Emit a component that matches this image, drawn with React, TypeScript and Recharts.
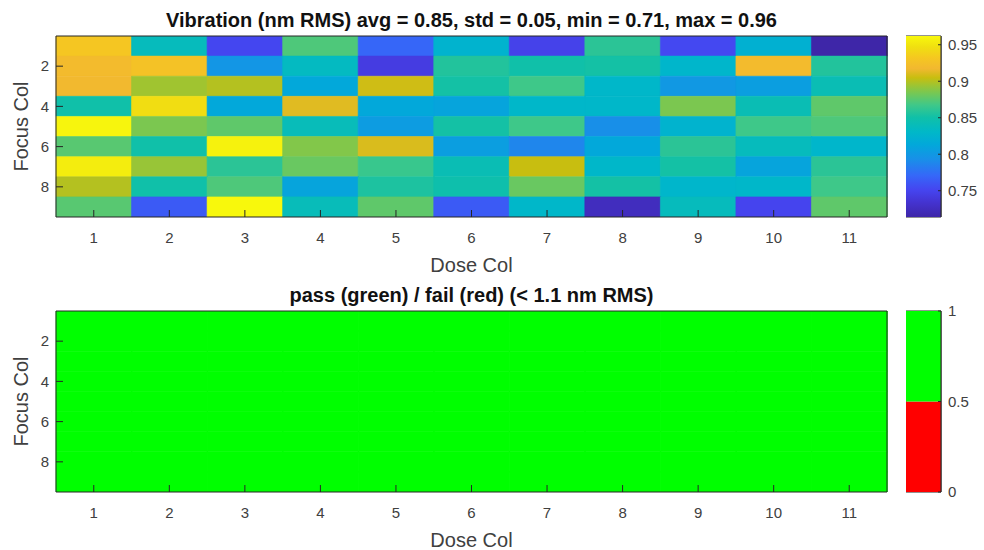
import { BarChart, Bar, Cell, XAxis, YAxis, ReferenceArea } from "recharts";

const doseCols = [1, 2, 3, 4, 5, 6, 7, 8, 9, 10, 11];
const focusRows = [1, 2, 3, 4, 5, 6, 7, 8, 9];
const focusTicks = [2, 4, 6, 8];

// vibration, nm RMS, one array per focus row (top to bottom)
const row1 = [0.93, 0.838, 0.752, 0.872, 0.77, 0.825, 0.748, 0.86, 0.753, 0.822, 0.714];
const row2 = [0.92, 0.927, 0.798, 0.835, 0.743, 0.857, 0.85, 0.852, 0.828, 0.92, 0.857];
const row3 = [0.918, 0.895, 0.9, 0.813, 0.907, 0.852, 0.867, 0.83, 0.8, 0.805, 0.843];
const row4 = [0.85, 0.945, 0.813, 0.912, 0.813, 0.81, 0.83, 0.83, 0.885, 0.843, 0.877];
const row5 = [0.96, 0.885, 0.877, 0.84, 0.803, 0.852, 0.867, 0.793, 0.825, 0.867, 0.872];
const row6 = [0.875, 0.85, 0.958, 0.887, 0.91, 0.805, 0.788, 0.813, 0.86, 0.838, 0.828];
const row7 = [0.955, 0.893, 0.86, 0.88, 0.865, 0.843, 0.905, 0.83, 0.852, 0.81, 0.86];
const row8 = [0.9, 0.85, 0.872, 0.81, 0.855, 0.848, 0.88, 0.852, 0.828, 0.83, 0.867];
const row9 = [0.875, 0.763, 0.962, 0.84, 0.877, 0.763, 0.83, 0.725, 0.838, 0.75, 0.877];
const vibration = [row1, row2, row3, row4, row5, row6, row7, row8, row9];

const passLimit = 1.1;
const vibTicks = [0.75, 0.8, 0.85, 0.9, 0.95];
const passTicks = [0, 0.5, 1];

const vibTitle = "Vibration (nm RMS) avg = 0.85, std = 0.05, min = 0.71, max = 0.96";
const passTitle = "pass (green) / fail (red) (< 1.1 nm RMS)";

// parula-like colormap stops
const PARULA: [number, string][] = [
  [0.0, "#3E26A8"],
  [0.08, "#4433D0"],
  [0.15, "#4545F0"],
  [0.23, "#3568F8"],
  [0.32, "#1890E8"],
  [0.4, "#02A8DA"],
  [0.47, "#00B8C8"],
  [0.55, "#10C0A8"],
  [0.62, "#40C888"],
  [0.68, "#72C858"],
  [0.73, "#A0C430"],
  [0.77, "#C8BE10"],
  [0.82, "#F2B830"],
  [0.88, "#F5C820"],
  [0.94, "#F0E010"],
  [1.0, "#F8F80C"],
];

const allVib = vibration.flat();
const vMin = Math.min(...allVib);
const vMax = Math.max(...allVib);

function rgb(h: string) {
  const n = parseInt(h.slice(1), 16);
  return [(n >> 16) & 255, (n >> 8) & 255, n & 255];
}

function parula(v: number) {
  const t = Math.max(0, Math.min(1, (v - vMin) / (vMax - vMin)));
  for (let i = 1; i < PARULA.length; i++) {
    const [t1, c1] = PARULA[i];
    if (t <= t1) {
      const [t0, c0] = PARULA[i - 1];
      const f = (t - t0) / (t1 - t0);
      const a = rgb(c0);
      const b = rgb(c1);
      const m = a.map((x, k) => Math.round(x + (b[k] - x) * f));
      return `rgb(${m[0]},${m[1]},${m[2]})`;
    }
  }
  return PARULA[PARULA.length - 1][1];
}

const passColor = (v: number) => (v >= 0.5 ? "#00FF00" : "#FF0000");
const passGrid = vibration.map((row) => row.map((v) => (v < passLimit ? 1 : 0)));

// one entry per dose column; each focus row is a stacked band of height 1
// starting at 0.5 so the band centres land on 1..9
const heatData = doseCols.map((d) => {
  const o: Record<string, number> = { dose: d, base: 0.5 };
  focusRows.forEach((r) => (o[`r${r}`] = 1));
  return o;
});

const W = 900;
const PLOT_L = 56;
const PLOT_R = 887;
const AXIS = "#262626";
const TXT = "#404040";

function Heatmap({
  grid,
  color,
  title,
  marginTop,
  height,
}: {
  grid: number[][];
  color: (v: number) => string;
  title: string;
  marginTop: number;
  height: number;
}) {
  return (
    <BarChart
      width={W}
      height={height}
      data={heatData}
      barCategoryGap={0}
      barGap={0}
      margin={{ top: marginTop, right: W - PLOT_R - 1, bottom: 0, left: PLOT_L - 30 }}
    >
      <Bar dataKey="base" stackId="s" fill="none" isAnimationActive={false} />
      {focusRows.map((r, ri) => (
        <Bar key={r} dataKey={`r${r}`} stackId="s" isAnimationActive={false}>
          {doseCols.map((d, ci) => (
            <Cell key={d} fill={color(grid[ri][ci])} stroke={color(grid[ri][ci])} strokeWidth={0.6} />
          ))}
        </Bar>
      ))}
      <XAxis
        dataKey="dose"
        interval={0}
        height={58}
        tickSize={-7}
        tickMargin={22}
        stroke={AXIS}
        tick={{ fill: TXT, fontSize: 15 }}
        label={{ value: "Dose Col", position: "insideBottom", offset: 3, fill: TXT, fontSize: 20 }}
      />
      <XAxis
        xAxisId="top"
        orientation="top"
        type="number"
        domain={[0.5, doseCols.length + 0.5]}
        ticks={doseCols}
        interval={0}
        allowDataOverflow
        height={1}
        tickSize={-7}
        tick={false}
        stroke={AXIS}
        label={{ value: title, position: "top", offset: 8.5, fill: "#111", fontSize: 20, fontWeight: "bold" }}
      />
      <YAxis
        type="number"
        domain={[0.5, focusRows.length + 0.5]}
        reversed
        ticks={focusTicks}
        interval={0}
        allowDataOverflow
        width={30}
        tickSize={-7}
        tickMargin={14}
        stroke={AXIS}
        tick={{ fill: TXT, fontSize: 15 }}
        label={{
          value: "Focus Col",
          angle: -90,
          position: "insideLeft",
          offset: -5,
          fill: TXT,
          fontSize: 20,
          style: { textAnchor: "middle" },
        }}
      />
      <YAxis
        yAxisId="right"
        orientation="right"
        type="number"
        domain={[0.5, focusRows.length + 0.5]}
        reversed
        ticks={focusTicks}
        interval={0}
        allowDataOverflow
        width={1}
        tickSize={-7}
        tick={false}
        stroke={AXIS}
      />
    </BarChart>
  );
}

function VibColorbar() {
  const data = [{ name: "cb", span: [vMin, vMax] }];
  return (
    <BarChart width={80} height={205} data={data} margin={{ top: 12, right: 0, bottom: 12, left: 0 }} barCategoryGap={0}>
      <defs>
        <linearGradient id="parulaGrad" x1="0" y1="1" x2="0" y2="0">
          {PARULA.map(([t, c]) => (
            <stop key={t} offset={`${t * 100}%`} stopColor={c} />
          ))}
        </linearGradient>
      </defs>
      <XAxis dataKey="name" hide />
      <Bar dataKey="span" fill="url(#parulaGrad)" isAnimationActive={false} />
      <ReferenceArea y1={vMin} y2={vMax} fill="none" stroke={AXIS} strokeWidth={1} fillOpacity={0} />
      <YAxis
        orientation="right"
        type="number"
        domain={[vMin, vMax]}
        allowDataOverflow
        ticks={vibTicks}
        interval={0}
        width={45}
        tickSize={-3}
        tickMargin={10}
        stroke={AXIS}
        tick={{ fill: TXT, fontSize: 15 }}
      />
    </BarChart>
  );
}

function PassColorbar() {
  const data = [{ name: "cb", fail: 0.5, pass: 0.5 }];
  return (
    <BarChart width={80} height={205} data={data} margin={{ top: 12, right: 0, bottom: 12, left: 0 }} barCategoryGap={0}>
      <XAxis dataKey="name" hide />
      <Bar dataKey="fail" stackId="a" fill={passColor(0)} isAnimationActive={false} />
      <Bar dataKey="pass" stackId="a" fill={passColor(1)} isAnimationActive={false} />
      <ReferenceArea y1={0} y2={1} fill="none" stroke={AXIS} strokeWidth={1} fillOpacity={0} />
      <YAxis
        orientation="right"
        type="number"
        domain={[0, 1]}
        allowDataOverflow
        ticks={passTicks}
        interval={0}
        width={45}
        tickSize={-3}
        tickMargin={10}
        stroke={AXIS}
        tick={{ fill: TXT, fontSize: 15 }}
      />
    </BarChart>
  );
}

export default function App() {
  return (
    <div
      style={{
        position: "absolute",
        left: 0,
        top: 0,
        width: 984,
        height: 550,
        background: "#fff",
        fontFamily: "'Liberation Sans', Arial, sans-serif",
        overflow: "hidden",
      }}
    >
      <div style={{ position: "absolute", left: 0, top: 0 }}>
        <Heatmap grid={vibration} color={parula} title={vibTitle} marginTop={35} height={275} />
      </div>
      <div style={{ position: "absolute", left: 906, top: 24 }}>
        <VibColorbar />
      </div>
      <div style={{ position: "absolute", left: 0, top: 276 }}>
        <Heatmap grid={passGrid} color={passColor} title={passTitle} marginTop={34} height={274} />
      </div>
      <div style={{ position: "absolute", left: 906, top: 299 }}>
        <PassColorbar />
      </div>
    </div>
  );
}
